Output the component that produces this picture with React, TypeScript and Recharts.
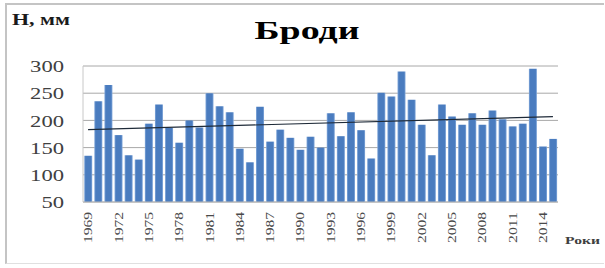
import {
  Bar,
  CartesianGrid,
  ComposedChart,
  Line,
  XAxis,
  YAxis,
} from "recharts";

const years = [
  "1969", "1970", "1971", "1972", "1973", "1974", "1975", "1976", "1977", "1978",
  "1979", "1980", "1981", "1982", "1983", "1984", "1985", "1986", "1987", "1988",
  "1989", "1990", "1991", "1992", "1993", "1994", "1995", "1996", "1997", "1998",
  "1999", "2000", "2001", "2002", "2003", "2004", "2005", "2006", "2007", "2008",
  "2009", "2010", "2011", "2012", "2013", "2014", "2015",
];

const precipitation = [
  135, 235, 265, 173, 136, 128, 194, 229, 186, 159,
  200, 187, 250, 226, 215, 148, 123, 225, 161, 183,
  168, 146, 170, 150, 213, 171, 215, 182, 130, 251,
  244, 290, 238, 192, 136, 229, 207, 192, 213, 192,
  218, 202, 189, 194, 295, 152, 166,
];

// linear trend at its two ends
const trendStart = 183;
const trendEnd = 207;

const yTicks = [50, 100, 150, 200, 250, 300];

const data = years.map((year, i) => ({
  year,
  value: precipitation[i],
  trend: i === 0 ? trendStart : i === years.length - 1 ? trendEnd : null,
}));

const serif = "'Liberation Serif', 'DejaVu Serif', serif";

const YTick = ({ x, y, payload }: any) => (
  <text
    x={x}
    y={y}
    dx={-11}
    dy="0.36em"
    textAnchor="end"
    fontFamily={serif}
    fontSize={17}
    fill="#404040"
    textLength={String(payload.value).length * 11.3}
    lengthAdjust="spacingAndGlyphs"
  >
    {payload.value}
  </text>
);

const XTick = ({ x, y, payload }: any) => (
  <text
    x={x}
    y={y + 2}
    dy="0.35em"
    textAnchor="end"
    transform={`rotate(-90, ${x}, ${y + 2})`}
    fontFamily={serif}
    fontSize={12}
    fill="#4a4a4a"
    textLength={31}
    lengthAdjust="spacingAndGlyphs"
  >
    {payload.value}
  </text>
);

export default function App() {
  return (
    <div
      style={{
        position: "absolute",
        left: 0,
        top: 0,
        width: 605,
        height: 268,
        background: "#fff",
      }}
    >
      <div
        style={{
          position: "absolute",
          left: 5,
          top: 3,
          width: 597,
          height: 258,
          borderTop: "2px solid #c4c4c4",
          borderLeft: "2px solid #c4c4c4",
          borderBottom: "1px solid #e0e0e0",
        }}
      />
      <ComposedChart
        width={605}
        height={268}
        data={data}
        margin={{ top: 66, right: 47, bottom: 0, left: 0 }}
        barCategoryGap="12%"
      >
        <defs>
          <linearGradient id="barFill" x1="0" y1="0" x2="1" y2="0">
            <stop offset="0%" stopColor="#86abdc" />
            <stop offset="18%" stopColor="#4a7cbf" />
            <stop offset="82%" stopColor="#4a7cbf" />
            <stop offset="100%" stopColor="#86abdc" />
          </linearGradient>
        </defs>
        <CartesianGrid vertical={false} stroke="#a8a8a8" />
        <XAxis
          dataKey="year"
          interval={2}
          height={66}
          axisLine={{ stroke: "#b8b8b8" }}
          tickLine={false}
          tick={<XTick />}
        />
        <YAxis
          width={83}
          domain={[50, 300]}
          ticks={yTicks}
          axisLine={{ stroke: "#c8c8c8" }}
          tickLine={false}
          tick={<YTick />}
        />
        <Bar dataKey="value" fill="url(#barFill)" isAnimationActive={false} />
        <Line
          dataKey="trend"
          type="linear"
          stroke="#1e2a38"
          strokeWidth={1.2}
          dot={false}
          connectNulls
          isAnimationActive={false}
        />
      </ComposedChart>
      <svg
        width={605}
        height={268}
        style={{ position: "absolute", left: 0, top: 0, pointerEvents: "none" }}
      >
        <text
          x={12}
          y={25}
          fontFamily={serif}
          fontWeight="bold"
          fontSize={16}
          fill="#1a1a1a"
          textLength={58}
          lengthAdjust="spacingAndGlyphs"
        >
          Н, мм
        </text>
        <text
          x={307}
          y={39}
          textAnchor="middle"
          fontFamily={serif}
          fontWeight="bold"
          fontSize={26}
          fill="#000"
          textLength={105}
          lengthAdjust="spacingAndGlyphs"
        >
          Броди
        </text>
        <text
          x={565}
          y={244}
          fontFamily={serif}
          fontWeight="bold"
          fontSize={11}
          fill="#404040"
          textLength={35}
          lengthAdjust="spacingAndGlyphs"
        >
          Роки
        </text>
      </svg>
    </div>
  );
}
